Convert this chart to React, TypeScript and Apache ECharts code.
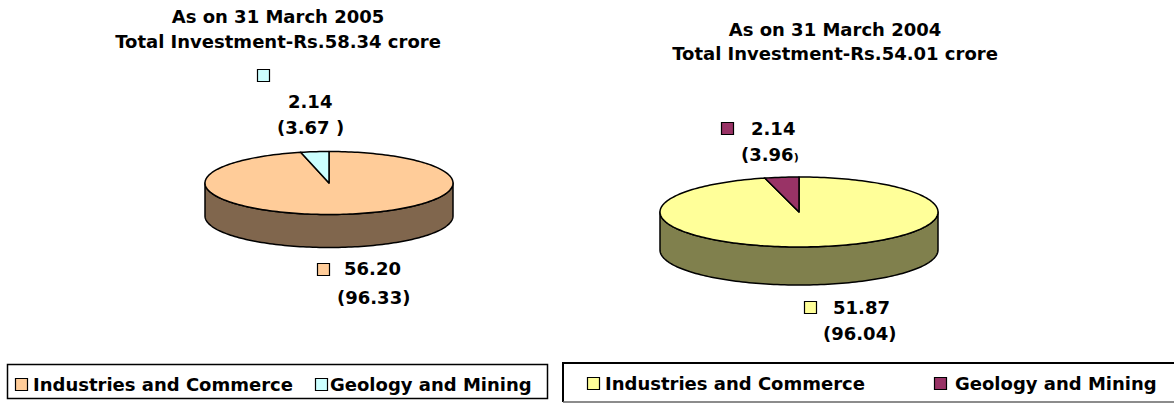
import React, { useEffect, useRef } from "react";
import * as echarts from "echarts";

// ---------- data ----------
const categories = ["Industries and Commerce", "Geology and Mining"];
const values2005 = [56.2, 2.14];
const percents2005 = ["96.33", "3.67 "];
const values2004 = [51.87, 2.14];
const percents2004 = ["96.04", "3.96"];
const titles2005 = ["As on 31 March 2005", "Total Investment-Rs.58.34 crore"];
const titles2004 = ["As on 31 March 2004", "Total Investment-Rs.54.01 crore"];
const colors2005 = ["#FFCC99", "#CCFFFF"];
const sides2005 = ["#80664D", "#668080"];
const colors2004 = ["#FFFF99", "#993366"];
const sides2004 = ["#80804D", "#4D1A33"];

const FONT = '"DejaVu Sans", sans-serif';

type Geo = { cx: number; cy: number; rx: number; ry: number; depth: number };
const geo2005: Geo = { cx: 329, cy: 183, rx: 124, ry: 31.5, depth: 33 };
const geo2004: Geo = { cx: 799, cy: 212, rx: 139, ry: 35, depth: 38 };

function arcPts(g: Geo, a0: number, a1: number, dy = 0) {
  const n = Math.max(2, Math.ceil(Math.abs(a1 - a0) / (Math.PI / 120)));
  const pts: number[][] = [];
  for (let k = 0; k <= n; k++) {
    const t = a0 + ((a1 - a0) * k) / n;
    pts.push([g.cx + g.rx * Math.sin(t), g.cy - g.ry * Math.cos(t) + dy]);
  }
  return pts;
}

function pieSeries(values: number[], colors: string[], sides: string[], g: Geo, part: "side" | "top") {
  const total = values.reduce((s, v) => s + v, 0);
  return {
    type: "custom",
    coordinateSystem: "none",
    silent: true,
    z: part === "side" ? 2 : 3,
    data: values.map((v) => [v]),
    renderItem: (params: any, api: any) => {
      const i = params.dataIndex;
      const v = api.value(0);
      let before = 0;
      for (let k = 0; k < i; k++) before += values[k];
      const a0 = (before / total) * 2 * Math.PI;
      const a1 = ((before + v) / total) * 2 * Math.PI;
      if (part === "top") {
        return {
          type: "polygon",
          shape: { points: [[g.cx, g.cy], ...arcPts(g, a0, a1)] },
          style: { fill: colors[i], stroke: "#000", lineWidth: 1.5, lineJoin: "round" },
        };
      }
      const s = Math.max(a0, Math.PI / 2);
      const e = Math.min(a1, (3 * Math.PI) / 2);
      if (s >= e) return { type: "group", children: [] };
      const top = arcPts(g, s, e);
      const bot = arcPts(g, e, s, g.depth);
      return {
        type: "polygon",
        shape: { points: [...top, ...bot] },
        style: { fill: sides[i], stroke: "#000", lineWidth: 1.5, lineJoin: "round" },
      };
    },
  };
}

function txt(text: string, x: number, y: number, align = "left", extra: any = {}) {
  return {
    type: "text",
    x,
    y,
    z: 10,
    style: {
      text,
      fill: "#000",
      fontSize: 18,
      fontWeight: "bold",
      fontFamily: FONT,
      textAlign: align,
      textVerticalAlign: "middle",
      ...extra,
    },
  };
}

function marker(x: number, y: number, color: string) {
  return {
    type: "rect",
    z: 10,
    shape: { x: x + 0.5, y: y + 0.5, width: 12, height: 12 },
    style: { fill: color, stroke: "#000", lineWidth: 1.2 },
  };
}

export default function App() {
  const ref = useRef<HTMLDivElement>(null);
  useEffect(() => {
    const chart = echarts.init(ref.current!, null, { renderer: "svg" });
    const elements: any[] = [
      // titles
      txt(titles2005[0], 278, 16, "center"),
      txt(titles2005[1], 278, 41, "center"),
      txt(titles2004[0], 835, 29, "center"),
      txt(titles2004[1], 835, 53, "center"),
      // 2005 labels
      marker(257, 69, colors2005[1]),
      txt(values2005[1].toFixed(2), 288, 101),
      txt("(" + percents2005[1] + ")", 277, 127),
      marker(317, 263, colors2005[0]),
      txt(values2005[0].toFixed(2), 344, 268),
      txt("(" + percents2005[0] + ")", 337, 297),
      // 2004 labels
      marker(721, 122, colors2004[1]),
      txt(values2004[1].toFixed(2), 751, 128),
      txt("(" + percents2004[1] + "{s|)}", 741, 154, "left", {
        rich: { s: { fontSize: 11, fontWeight: "bold", fontFamily: FONT, fill: "#000", verticalAlign: "bottom" } },
      }),
      marker(804, 301, colors2004[0]),
      txt(values2004[0].toFixed(2), 833, 307),
      txt("(" + percents2004[0] + ")", 823, 333),
      // left legend
      {
        type: "rect",
        z: 5,
        shape: { x: 7.5, y: 364.5, width: 540, height: 34 },
        style: { fill: "#fff", stroke: "#000", lineWidth: 1.5 },
      },
      marker(15, 378, colors2005[0]),
      txt(categories[0], 33, 384),
      marker(315, 378, colors2005[1]),
      txt(categories[1], 330, 384),
      // right legend
      { type: "line", z: 6, shape: { x1: 563, y1: 363, x2: 1174, y2: 363 }, style: { stroke: "#000", lineWidth: 2 } },
      { type: "line", z: 6, shape: { x1: 563, y1: 362, x2: 563, y2: 402 }, style: { stroke: "#000", lineWidth: 2 } },
      { type: "line", z: 6, shape: { x1: 563, y1: 402, x2: 1174, y2: 402 }, style: { stroke: "#666", lineWidth: 1.5 } },
      marker(587, 377, colors2004[0]),
      txt(categories[0], 605, 383),
      marker(934, 377, colors2004[1]),
      txt(categories[1], 955, 383),
    ];
    chart.setOption({
      animation: false,
      backgroundColor: "#fff",
      series: [
        pieSeries(values2005, colors2005, sides2005, geo2005, "side"),
        pieSeries(values2005, colors2005, sides2005, geo2005, "top"),
        pieSeries(values2004, colors2004, sides2004, geo2004, "side"),
        pieSeries(values2004, colors2004, sides2004, geo2004, "top"),
      ],
      graphic: { elements },
    });
    return () => chart.dispose();
  }, []);
  return <div ref={ref} style={{ position: "absolute", left: 0, top: 0, width: 1174, height: 404 }} />;
}
